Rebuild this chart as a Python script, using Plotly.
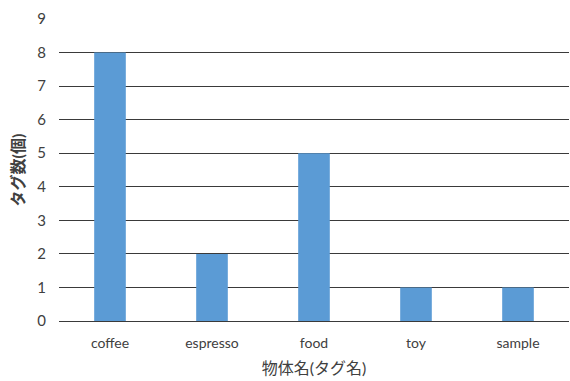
import plotly.graph_objects as go

# Tag counts per object name
categories = ["coffee", "espresso", "food", "toy", "sample"]
tag_counts = [8, 2, 5, 1, 1]
y_ticks = list(range(0, 10))

font_family = "Lato, Noto Sans CJK JP, sans-serif"

fig = go.Figure(
    go.Bar(
        x=categories,
        y=tag_counts,
        marker=dict(color="#5B9BD5", line=dict(width=0)),
        width=0.31,
    )
)

fig.update_layout(
    width=570,
    height=381,
    margin=dict(l=59, r=1, t=19, b=60),
    paper_bgcolor="white",
    plot_bgcolor="white",
    showlegend=False,
    font=dict(family=font_family, size=13, color="#404040"),
)

fig.update_xaxes(
    title=dict(text="物体名(タグ名)", font=dict(size=16, color="#404040"), standoff=12),
    showgrid=False,
    showline=False,
    ticks="",
    ticklabelstandoff=12,
    tickfont=dict(size=14, color="#404040"),
)

fig.update_yaxes(
    title=dict(text="<b>タグ数(個)</b>", font=dict(size=16, color="#404040"), standoff=8),
    range=[0, 9],
    tickvals=y_ticks,
    showgrid=True,
    gridcolor="#3a3a3a",
    gridwidth=1,
    zeroline=True,
    zerolinecolor="#3a3a3a",
    zerolinewidth=1,
    showline=False,
    ticks="",
    ticklabelstandoff=12,
    tickfont=dict(size=15, color="#404040"),
)

fig.write_html("out.html")
